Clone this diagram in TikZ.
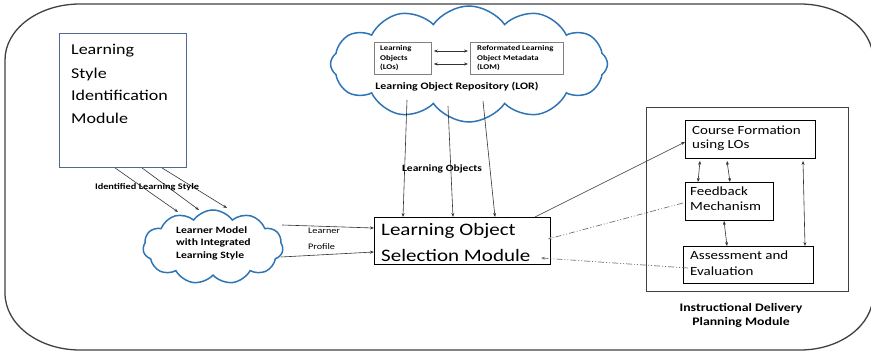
\documentclass[tikz,border=0pt]{standalone}
\usepackage{fontspec}
\setmainfont{Carlito}[FakeStretch=1.2]
\usetikzlibrary{shapes.symbols,arrows.meta,calc}
\newcommand{\fsz}[1]{\fontsize{#1}{#1}\selectfont}
\definecolor{cloudblue}{RGB}{46,117,182}
\definecolor{lsimblue}{RGB}{79,106,146}
\begin{document}
\begin{tikzpicture}[x=1pt,y=-1pt,
  box/.style={draw, rectangle, inner sep=0pt, anchor=north west, line width=0.9pt},
  txt/.style={anchor=base west, inner sep=0pt},
  ctxt/.style={anchor=base, inner sep=0pt},
  cloudy/.style={draw=cloudblue, line width=1.5pt, cloud, cloud puffs=12, cloud puff arc=110, cloud ignores aspect, inner sep=0pt},
  tip/.tip={Stealth[length=4pt,width=3pt]},
  arr/.style={draw=black!80, line width=0.6pt, -tip},
  darr/.style={draw=black!80, line width=0.6pt, tip-tip},
  dd/.style={draw=black!55, line width=0.7pt, dash pattern=on 6pt off 2pt on 1pt off 2pt on 1pt off 2pt, -tip},
  frame/.style={draw=black!75, line width=1.3pt}]
\useasboundingbox (0,0) rectangle (871,353);
\clip (0,0) rectangle (871,353);

% outer frame
\draw[frame] (5,60) .. controls (5,29) and (38.6,4) .. (80,4) -- (800,4)
  .. controls (840.3,4) and (873,28.6) .. (873,59) -- (873,295)
  .. controls (873,325.4) and (840.3,350) .. (800,350) -- (80,350)
  .. controls (38.6,350) and (5,324.5) .. (5,293) -- cycle;

% Learning Style Identification Module
\node[box, draw=lsimblue, minimum width=127pt, minimum height=134pt] (lsim) at (59,33) {};
\node[txt, font=\fsz{15}] (l1) at (71,55) {Learning};
\node[txt, font=\fsz{15}] (l2) at (71,78) {Style};
\node[txt, font=\fsz{15}] (l3) at (71,101) {Identification};
\node[txt, font=\fsz{15}] (l4) at (71,124) {Module};

% LOR cloud
\node[cloudy, minimum width=277pt, minimum height=116pt] (lor) at (469,64) {};
\node[box, draw=black!50, line width=0.8pt, minimum width=57pt, minimum height=32pt] (lo) at (374,42) {};
\node[txt, font=\bfseries\fsz{7.3}] at (380,51) {Learning};
\node[txt, font=\bfseries\fsz{7.3}] at (380,60.5) {Objects};
\node[txt, font=\bfseries\fsz{7.3}] at (380,70) {(LOs)};
\node[box, draw=black!50, line width=0.8pt, minimum width=93pt, minimum height=32pt] (lom) at (470,42) {};
\node[txt, font=\bfseries\fsz{7.3}] at (477,51) {Reformated Learning};
\node[txt, font=\bfseries\fsz{7.3}] at (477,60.5) {Object Metadata};
\node[txt, font=\bfseries\fsz{7.3}] at (477,70) {(LOM)};
\draw[darr] ($(lo.north east)+(2,9)$) -- ($(lom.north west)+(-2,9)$);
\draw[darr] ($(lo.north east)+(2,22)$) -- ($(lom.north west)+(-2,22)$);
\node[ctxt, font=\bfseries\fsz{9.9}] (lorlab) at (457,89) {Learning Object Repository (LOR)};

% Learning Object Selection Module
\node[box, line width=1pt, minimum width=176pt, minimum height=47pt] (losm) at (374,217) {};
\node[txt, font=\fsz{17.5}] at (381,235) {Learning Object};
\node[txt, font=\fsz{17.5}] at (381,261) {Selection Module};

% arrows LOR -> LOSM
\coordinate (o1) at (407,100);
\coordinate (o2) at (448,106);
\coordinate (o3) at (483,101);
\draw[arr] (o1) -- ($(losm.north west)+(29,0)$);
\draw[arr] (o2) -- ($(losm.north west)+(79,0)$);
\draw[arr] (o3) -- ($(losm.north west)+(121,0)$);
\node[ctxt, font=\bfseries\fsz{9.6}] (lolab) at (442,171) {Learning Objects};

% Learner model cloud
\node[cloudy, cloud puffs=11, minimum width=140pt, minimum height=74pt] (lm) at (213,247) {};
\node[txt, font=\bfseries\fsz{9.7}] at (176,233) {Learner Model};
\node[txt, font=\bfseries\fsz{9.7}] at (176,245.5) {with Integrated};
\node[txt, font=\bfseries\fsz{9.7}] at (176,258) {Learning Style};

% LSIM -> learner model
\draw[arr] ($(lsim.south west)+(56,0)$) -- (178,212);
\draw[arr] ($(lsim.south west)+(83,0)$) -- (199,210);
\draw[arr] ($(lsim.south west)+(103,0)$) -- (227,208);
\node[ctxt, font=\bfseries\fsz{8.6}] (ilab) at (147,189) {Identified Learning Style};

% learner model -> LOSM
\draw[arr] (282,225) -- ($(losm.north west)+(0,11)$);
\draw[arr] (281,257) -- ($(losm.north west)+(0,35)$);
\node[txt, font=\fsz{8.5}] (lp1) at (308,233) {Learner};
\node[txt, font=\fsz{8.5}] (lp2) at (308,249) {Profile};

% Instructional Delivery Planning Module
\node[box, draw=black!75, line width=1pt, minimum width=202pt, minimum height=184pt] (idpm) at (646,107) {};
\node[box, minimum width=130pt, minimum height=38pt] (cf) at (685,120) {};
\node[txt, font=\fsz{12.5}] at (692,135) {Course Formation};
\node[txt, font=\fsz{12.5}] at (692,148) {using LOs};
\node[box, minimum width=88pt, minimum height=38pt] (fb) at (685,182) {};
\node[txt, font=\fsz{12.5}] at (690,195) {Feedback};
\node[txt, font=\fsz{12.5}] at (690,210) {Mechanism};
\node[box, minimum width=130pt, minimum height=37pt] (ae) at (683,246) {};
\node[txt, font=\fsz{12.5}] at (690,259) {Assessment and};
\node[txt, font=\fsz{12.5}] at (690,275) {Evaluation};
\node[ctxt, font=\bfseries\fsz{11.5}] (ilab1) at (741,311) {Instructional Delivery};
\node[ctxt, font=\bfseries\fsz{11.5}] (ilab2) at (741,325) {Planning Module};

\draw[darr] ($(cf.south west)+(15,2)$) -- ($(fb.north west)+(13,0)$);
\draw[darr] ($(cf.south west)+(42,2)$) -- ($(fb.north west)+(45,0)$);
\draw[darr] ($(fb.south west)+(39,0)$) -- ($(ae.north west)+(44,0)$);
\draw[darr] ($(cf.south west)+(118,2)$) -- ($(ae.north west)+(122,0)$);

% connections LOSM <-> IDPM
\draw[arr] ($(losm.north west)+(161,0)$) -- ($(cf.north west)+(0,22)$);
\draw[dd] ($(fb.north west)+(-2,21)$) -- ($(losm.north east)+(-3,22)$);
\draw[dd] (688,268) -- ($(losm.north east)+(-10,41)$);
\end{tikzpicture}
\end{document}
